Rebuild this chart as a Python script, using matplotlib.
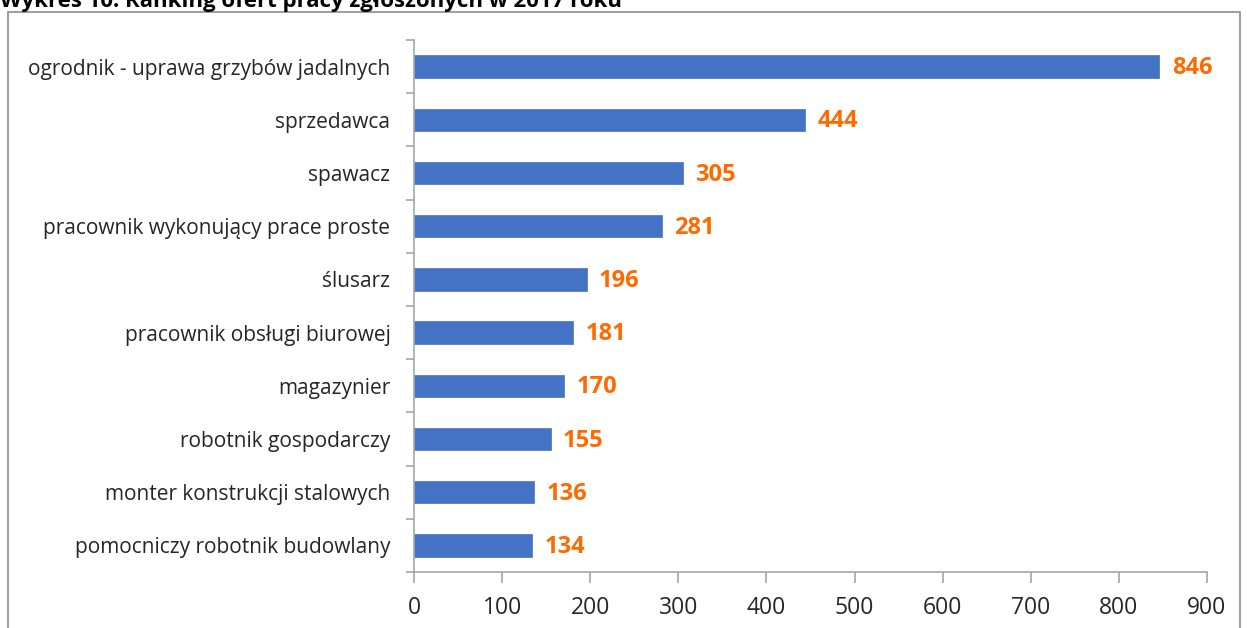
import matplotlib.pyplot as plt
from matplotlib.patches import Rectangle
import numpy as np

categories = ["ogrodnik - uprawa grzybów jadalnych", "sprzedawca", "spawacz",
              "pracownik wykonujący prace proste", "ślusarz", "pracownik obsługi biurowej",
              "magazynier", "robotnik gospodarczy", "monter konstrukcji stalowych",
              "pomocniczy robotnik budowlany"]
values = [846, 444, 305, 281, 196, 181, 170, 155, 136, 134]
xticks = [0, 100, 200, 300, 400, 500, 600, 700, 800, 900]
title = "Wykres 10. Ranking ofert pracy zgłoszonych w 2017 roku"

plt.rcParams['font.family'] = ['Open Sans', 'DejaVu Sans']

fig = plt.figure(figsize=(12.47, 6.28), dpi=100)
W, H = 1247, 628
ax = fig.add_axes([414 / W, 1 - 572 / H, (1207 - 414) / W, (572 - 40) / H])

y = np.arange(len(categories))
ax.barh(y, values, height=0.42, color='#4472C4', edgecolor='#4472C4', linewidth=0.5)
ax.set_ylim(len(categories) - 0.5, -0.5)
ax.set_xlim(0, 900)

for yi, v in zip(y, values):
    ax.text(v + 14, yi + 0.03, str(v), va='center', ha='left', color='#FF6A00',
            fontsize=17, fontweight='bold')

gray = '#A6A6A6'
for s in ['top', 'right']:
    ax.spines[s].set_visible(False)
for s in ['left', 'bottom']:
    ax.spines[s].set_color(gray)
    ax.spines[s].set_linewidth(1.2)

ax.set_xticks(xticks)
ax.set_xticklabels([str(t) for t in xticks], fontsize=16.5, color='#262626')
ax.tick_params(axis='x', length=8, color=gray, width=1.2, pad=9)

ax.set_yticks(np.arange(len(categories) + 1) - 0.5)
ax.set_yticklabels([])
ax.tick_params(axis='y', length=6, color=gray, width=1.2)
ax.set_yticks(y, minor=True)
ax.set_yticklabels(categories, minor=True, fontsize=15, color='#262626')
ax.tick_params(axis='y', which='minor', length=0, pad=17)

# outer chart border
fig.patches.append(Rectangle((8 / W, -0.05), (1240 - 8) / W, 1 - 12 / H + 0.05,
                             transform=fig.transFigure, fill=False,
                             edgecolor='#8C8C8C', linewidth=1.2))

fig.text(0.0, 1 - 2 / H, title, fontsize=16, fontweight='bold', ha='left', va='center')

fig.savefig('out.png', dpi=100)
